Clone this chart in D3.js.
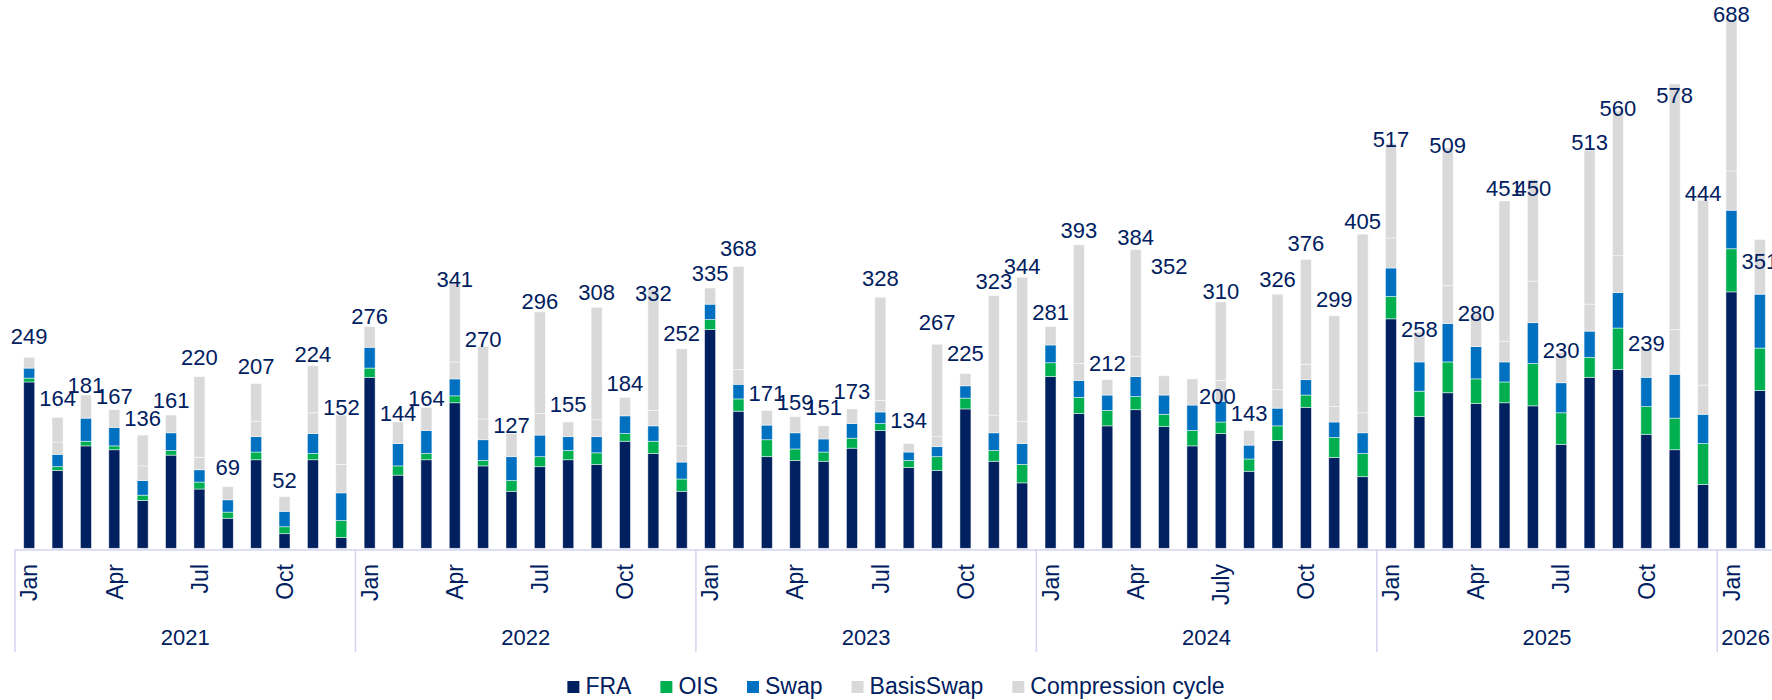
<!DOCTYPE html>
<html>
<head>
<meta charset="utf-8">
<script src="https://cdn.jsdelivr.net/npm/d3@7/dist/d3.min.js"></script>
<style>
  body { margin: 0; background: #fff; }
  text { font-family: "Liberation Sans", Arial, sans-serif; fill: #002060; }
</style>
</head>
<body>
<svg id="chart" width="1772" height="700"></svg>
<script>
// years and how many months each one has in the chart
var years = ["2021", "2022", "2023", "2024", "2025", "2026"];
var monthsPerYear = [12, 12, 12, 12, 12, 2];
// month ticks shown under the bars (Jan / Apr / Jul / Oct)
var quarterLabels = [
  ["Jan", "Apr", "Jul", "Oct"],
  ["Jan", "Apr", "Jul", "Oct"],
  ["Jan", "Apr", "Jul", "Oct"],
  ["Jan", "Apr", "July", "Oct"],
  ["Jan", "Apr", "Jul", "Oct"],
  ["Jan"]
];

// series, Jan 2021 .. Feb 2026
var fra = [216, 101, 133, 128, 62, 121, 77, 39, 115, 19, 115, 14,
  222, 95, 115, 189, 107, 74, 106, 115, 109, 139, 123, 74,
  284, 178, 119, 114, 113, 130, 153, 105, 101, 181, 113, 85,
  223, 175, 159, 180, 158, 133, 149, 100, 140, 183, 118, 93,
  298, 171, 202, 188, 189, 185, 135, 222, 232, 148, 128, 83,
  333, 205];
var ois = [5, 5, 6, 5, 7, 6, 9, 8, 10, 9, 8, 22,
  12, 12, 8, 9, 7, 14, 13, 12, 15, 10, 16, 16,
  13, 16, 22, 15, 12, 13, 9, 9, 18, 14, 14, 24,
  18, 21, 20, 17, 16, 20, 15, 16, 19, 16, 26, 30,
  29, 33, 40, 32, 27, 55, 41, 26, 54, 36, 41, 53,
  56, 55];
var swap = [13, 16, 30, 24, 19, 23, 16, 16, 20, 20, 26, 36,
  27, 29, 30, 22, 27, 31, 28, 18, 21, 23, 20, 22,
  20, 19, 19, 21, 17, 19, 15, 11, 13, 16, 23, 27,
  23, 22, 20, 26, 25, 33, 27, 18, 23, 20, 20, 27,
  37, 38, 50, 42, 26, 53, 39, 34, 46, 38, 57, 38,
  50, 70];
var basisSwap = [14, 16, 30, 23, 19, 23, 16, 17, 20, 19, 27, 37,
  27, 28, 30, 22, 27, 30, 28, 19, 22, 24, 20, 21,
  21, 19, 19, 21, 17, 19, 15, 11, 13, 16, 23, 29,
  24, 22, 20, 26, 25, 34, 27, 19, 24, 20, 20, 26,
  39, 39, 49, 42, 27, 54, 39, 35, 48, 37, 58, 38,
  51, 71];
var compression = [0, 32, 0, 0, 40, 0, 105, 0, 49, 0, 61, 64,
  0, 0, 0, 102, 94, 0, 132, 0, 146, 0, 157, 126,
  0, 134, 0, 0, 0, 0, 134, 0, 120, 0, 155, 187,
  0, 154, 0, 139, 0, 0, 102, 0, 124, 136, 118, 232,
  123, 0, 179, 0, 182, 132, 0, 200, 188, 0, 319, 240,
  197, 0];
// totals printed above the bars
var totals = [249, 164, 181, 167, 136, 161, 220, 69, 207, 52, 224, 152,
  276, 144, 164, 341, 270, 127, 296, 155, 308, 184, 332, 252,
  335, 368, 171, 159, 151, 173, 328, 134, 267, 225, 323, 344,
  281, 393, 212, 384, 352, 200, 310, 143, 326, 376, 299, 405,
  517, 258, 509, 280, 451, 450, 230, 513, 560, 239, 578, 444,
  688, 351];

var keys = ["FRA", "OIS", "Swap", "BasisSwap", "Compression"];
var legendNames = ["FRA", "OIS", "Swap", "BasisSwap", "Compression cycle"];
var colors = {
  FRA: "#002060",
  OIS: "#00B050",
  Swap: "#0070C0",
  BasisSwap: "#D9D9D9",
  Compression: "#D9D9D9"
};
// labels that were dragged by hand in the original
var labelNudge = { 15: [0, 11], 16: [0, 19], 22: [0, 18], 40: [5, 6], 41: [25, 25] };

var svg = d3.select("#chart");
var baseY = 548.3;

var periods = [];
var tickIdx = {};
years.forEach(function(yr, i) {
  for (var m = 0; m < monthsPerYear[i]; m++) {
    var p = yr + "-" + (m + 1);
    if (m % 3 == 0) tickIdx[p] = quarterLabels[i][m / 3];
    periods.push(p);
  }
});

var rows = periods.map(function(p, i) {
  return {
    period: p,
    FRA: fra[i],
    OIS: ois[i],
    Swap: swap[i],
    BasisSwap: basisSwap[i],
    Compression: compression[i]
  };
});

var x = d3.scaleBand()
  .domain(periods)
  .range([15, 1774])
  .paddingInner(0.612)
  .paddingOuter(0.306);
var y = d3.scaleLinear().domain([0, 712]).range([baseY, 0]);
// the total labels sit on their own (secondary) scale
var yLabel = d3.scaleLinear().domain([0, 718]).range([526, 0]);

var stacked = d3.stack().keys(keys)(rows);

svg.append("g")
  .attr("class", "bars")
  .selectAll("g")
  .data(stacked)
  .enter()
  .append("g")
  .attr("fill", function(s) { return colors[s.key]; })
  .selectAll("rect")
  .data(function(s) { return s.filter(function(d) { return d[1] > d[0]; }); })
  .enter()
  .append("rect")
  .attr("x", function(d) { return x(d.data.period); })
  .attr("y", function(d) { return y(d[1]); })
  .attr("width", x.bandwidth())
  .attr("height", function(d) { return y(d[0]) - y(d[1]); })
  .attr("stroke", "#ffffff")
  .attr("stroke-width", 0.8)
  .attr("stroke-opacity", 0.6);

// category axis
var xAxis = d3.axisBottom(x)
  .tickValues(Object.keys(tickIdx))
  .tickFormat(function(p) { return tickIdx[p]; })
  .tickSize(0)
  .tickSizeOuter(0);

var gx = svg.append("g")
  .attr("class", "x axis")
  .attr("transform", "translate(0," + (baseY + 1.2) + ")")
  .call(xAxis);
gx.select(".domain").attr("stroke", "#D4D4F0").attr("stroke-width", 1.5);
gx.selectAll(".tick text")
  .attr("transform", "rotate(-90)")
  .attr("text-anchor", "end")
  .attr("x", -14.5)
  .attr("y", 0)
  .attr("dy", "0.36em")
  .style("font-size", "23px")
  .style("font-family", "'Liberation Sans', Arial, sans-serif")
  .attr("fill", "#002060");

// year groups
var half = (x.step() - x.bandwidth()) / 2;
var start = 0;
years.forEach(function(yr, i) {
  var first = periods[start];
  var last = periods[start + monthsPerYear[i] - 1];
  var x0 = x(first) - half;
  var x1 = x(last) + x.bandwidth() + half;
  svg.append("line")
    .attr("x1", x0).attr("x2", x0)
    .attr("y1", baseY + 1).attr("y2", 652)
    .attr("stroke", "#D4D4F0")
    .attr("stroke-width", 1.5);
  svg.append("text")
    .attr("x", (x0 + x1) / 2)
    .attr("y", 645)
    .attr("text-anchor", "middle")
    .style("font-size", "22px")
    .text(yr);
  start += monthsPerYear[i];
});

// total labels
svg.append("g")
  .selectAll("text")
  .data(totals)
  .enter()
  .append("text")
  .attr("x", function(d, i) {
    var n = labelNudge[i] ? labelNudge[i][0] : 0;
    return x(periods[i]) + x.bandwidth() / 2 + n;
  })
  .attr("y", function(d, i) {
    var n = labelNudge[i] ? labelNudge[i][1] : 0;
    return yLabel(d) + n;
  })
  .attr("text-anchor", "middle")
  .style("font-size", "22px")
  .text(function(d) { return d; });

// legend
var legend = svg.append("g").attr("class", "legend");
var lx = 0;
keys.forEach(function(k, i) {
  var item = legend.append("g").attr("transform", "translate(" + lx + ",0)");
  item.append("rect")
    .attr("x", 0).attr("y", 681)
    .attr("width", 12).attr("height", 12)
    .attr("fill", colors[k]);
  var t = item.append("text")
    .attr("x", 18)
    .attr("y", 694)
    .style("font-size", "23px")
    .text(legendNames[i]);
  lx += 18 + t.node().getComputedTextLength() + 29;
});
lx -= 29;
legend.attr("transform", "translate(" + (896 - lx / 2) + ",0)");
</script>
</body>
</html>
